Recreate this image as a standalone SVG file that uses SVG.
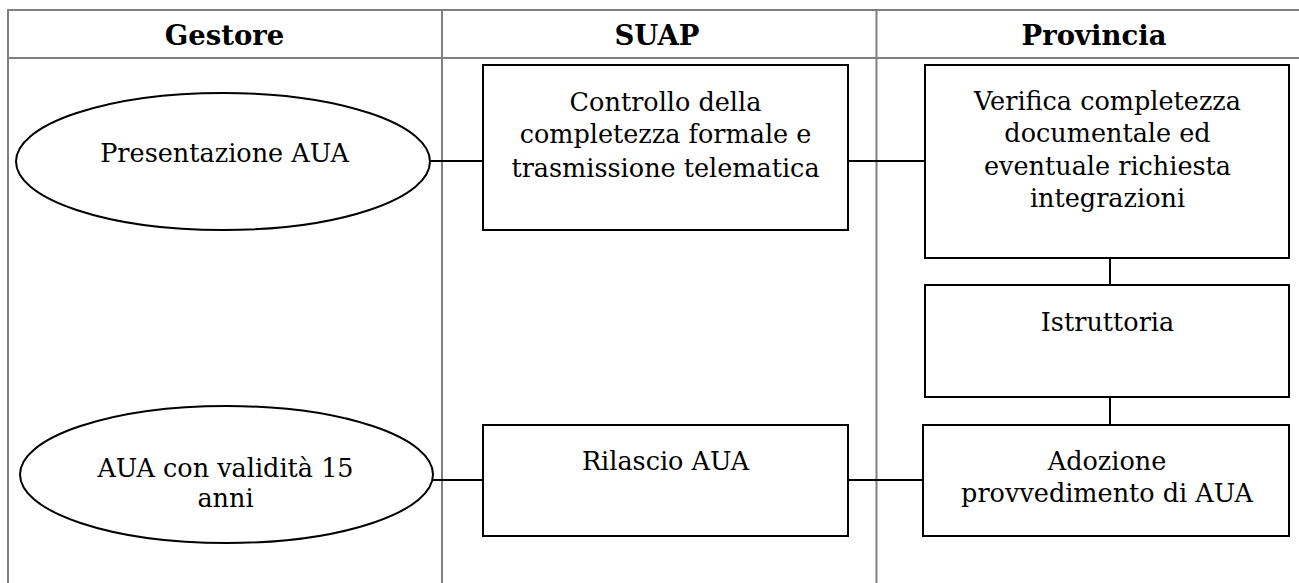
<svg xmlns="http://www.w3.org/2000/svg" width="1299" height="583" viewBox="0 0 1299 583">
<style>
.grid{stroke:#808080;stroke-width:2;fill:none}
.node{fill:#fff;stroke:#000;stroke-width:2}
.conn{stroke:#000;stroke-width:2;fill:none}
.hd{font-family:"DejaVu Serif","Liberation Serif",serif;font-weight:bold;font-size:27.5px;fill:#000;text-anchor:middle}
.tx{font-family:"DejaVu Serif","Liberation Serif",serif;font-size:25.5px;fill:#000;text-anchor:middle}
</style>
<rect width="1299" height="583" fill="#fff"/>
<g id="table">
<line class="grid" x1="8" y1="10" x2="1299" y2="10"/>
<line class="grid" x1="8" y1="58" x2="1299" y2="58"/>
<line class="grid" x1="8" y1="9" x2="8" y2="583"/>
<line class="grid" x1="442" y1="9" x2="442" y2="583"/>
<line class="grid" x1="876.5" y1="9" x2="876.5" y2="583"/>
<text class="hd" x="224.5" y="45">Gestore</text>
<text class="hd" x="657" y="45">SUAP</text>
<text class="hd" x="1094" y="45">Provincia</text>
</g>
<g id="connectors">
<line class="conn" x1="430" y1="161" x2="483" y2="161"/>
<line class="conn" x1="848" y1="161" x2="925" y2="161"/>
<line class="conn" x1="1110" y1="258" x2="1110" y2="285"/>
<line class="conn" x1="1110" y1="397" x2="1110" y2="425"/>
<line class="conn" x1="430" y1="480" x2="483" y2="480"/>
<line class="conn" x1="848" y1="480" x2="923" y2="480"/>
</g>
<g id="presentazione">
<ellipse class="node" cx="223" cy="161.5" rx="207" ry="68.5"/>
<text class="tx" x="224.5" y="161.5">Presentazione AUA</text>
</g>
<g id="controllo">
<rect class="node" x="483" y="65" width="365" height="165"/>
<text class="tx" x="665.5" y="110.5">Controllo della</text>
<text class="tx" x="665.5" y="143.3">completezza formale e</text>
<text class="tx" x="665.5" y="176.5">trasmissione telematica</text>
</g>
<g id="verifica">
<rect class="node" x="925" y="65" width="364" height="193"/>
<text class="tx" x="1107.5" y="110">Verifica completezza</text>
<text class="tx" x="1107.5" y="142">documentale ed</text>
<text class="tx" x="1107.5" y="175">eventuale richiesta</text>
<text class="tx" x="1107.5" y="207">integrazioni</text>
</g>
<g id="istruttoria">
<rect class="node" x="925" y="285" width="364" height="112"/>
<text class="tx" x="1107.5" y="330.5">Istruttoria</text>
</g>
<g id="adozione">
<rect class="node" x="923" y="425" width="366" height="111"/>
<text class="tx" x="1107" y="470">Adozione</text>
<text class="tx" x="1107" y="502">provvedimento di AUA</text>
</g>
<g id="rilascio">
<rect class="node" x="483" y="425" width="365" height="111"/>
<text class="tx" x="665.5" y="470">Rilascio AUA</text>
</g>
<g id="aua15">
<ellipse class="node" cx="226.5" cy="474.5" rx="206.5" ry="68.5"/>
<text class="tx" x="225.5" y="476.5">AUA con validità 15</text>
<text class="tx" x="225.5" y="506.5">anni</text>
</g>
</svg>
